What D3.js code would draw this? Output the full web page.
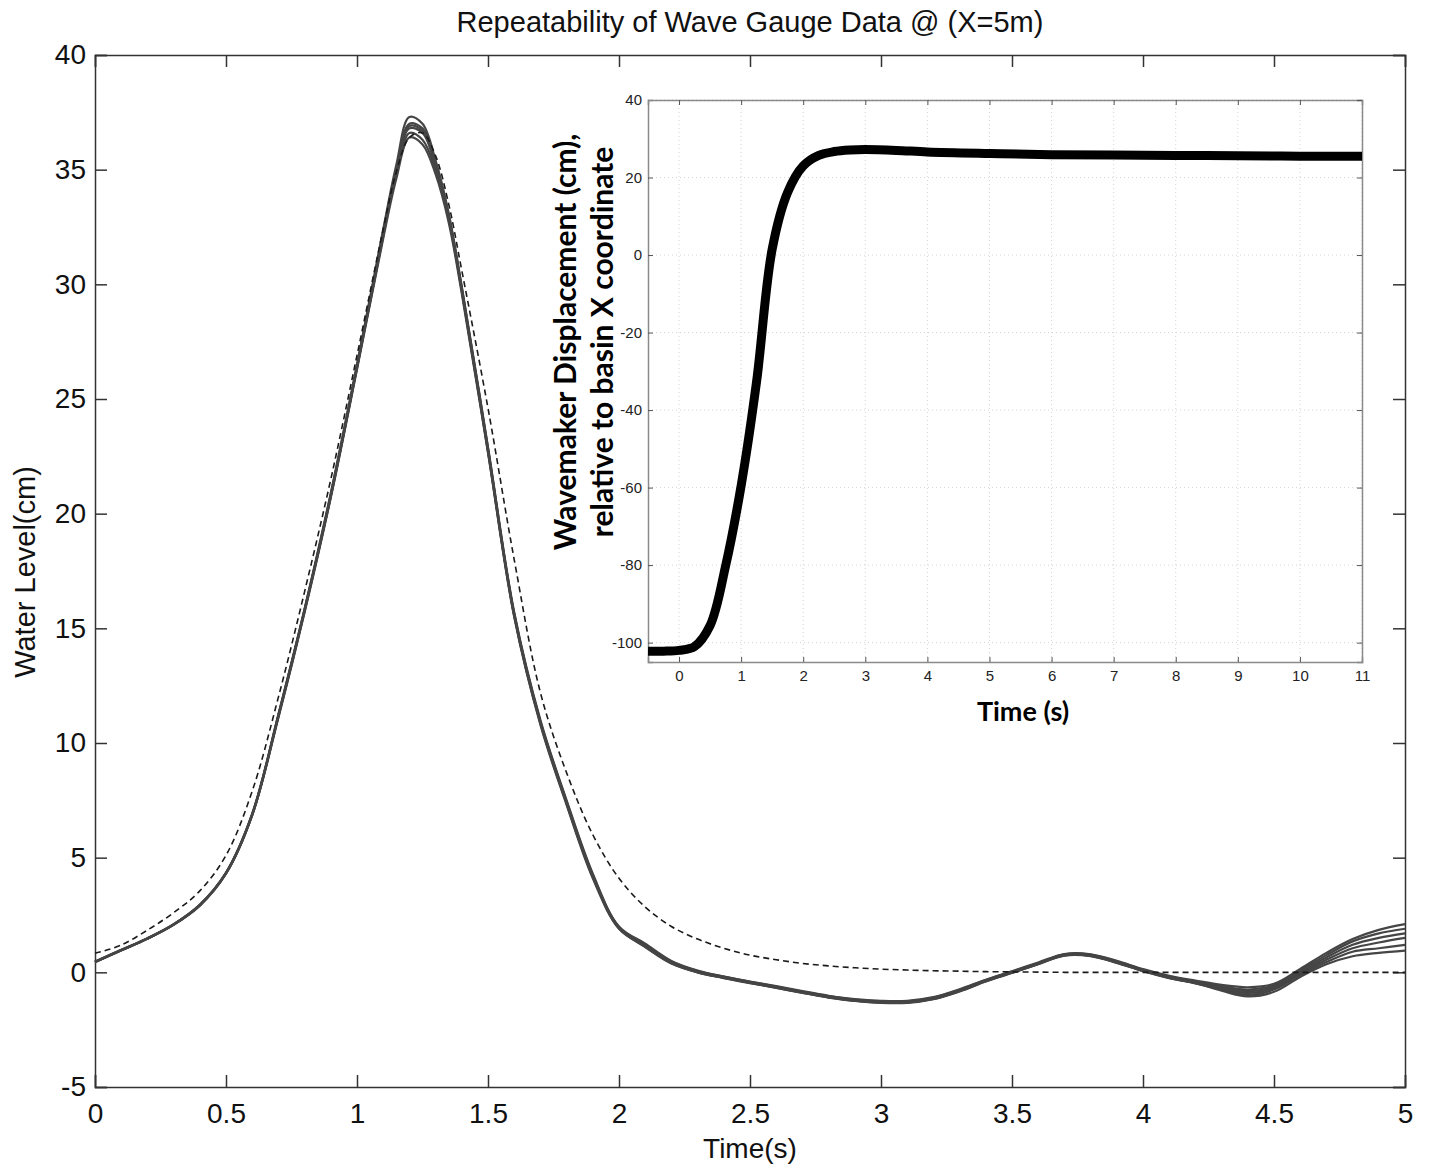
<!DOCTYPE html>
<html>
<head>
<meta charset="utf-8">
<script src="https://cdn.jsdelivr.net/npm/d3@7"></script>
<style>
  body { margin: 0; background: #fff; }
</style>
</head>
<body>
<div id="chart"></div>
<script>
//time samples (s) for the gauge records
var timeMain = [0,0.1,0.2,0.3,0.4,0.5,0.6,0.7,0.8,0.9,1.0,1.1,1.15,1.2,1.25,1.3,1.35,1.4,1.5,1.6,1.7,1.8,1.9,2.0,2.1,2.2,2.3,2.4,2.5,2.6,2.7,2.8,2.9,3.0,3.1,3.2,3.3,3.4,3.5,3.6,3.7,3.8,3.9,4.0,4.1,4.2,4.3,4.4,4.5,4.6,4.7,4.8,4.9,5.0];

//measured water level (cm), one array per repeated run
var run1 = [0.47,0.98,1.49,2.1,2.95,4.35,6.92,11.25,15.85,20.9,26.5,32.4,35.2,37.3,37.0,35.4,33.1,29.9,22.9,15.7,11.0,7.5,4.3,2.0,1.25,0.5,0.08,-0.18,-0.4,-0.6,-0.82,-1.02,-1.17,-1.24,-1.24,-1.08,-0.74,-0.32,0.05,0.43,0.8,0.79,0.5,0.14,-0.15,-0.36,-0.55,-0.65,-0.5,0.15,0.85,1.45,1.85,2.1];
var run2 = [0.46,0.97,1.48,2.09,2.94,4.34,6.9,11.22,15.82,20.85,26.45,32.3,35.0,37.0,36.8,35.3,33.0,29.85,22.85,15.65,10.95,7.45,4.25,1.97,1.22,0.47,0.06,-0.19,-0.41,-0.62,-0.84,-1.04,-1.19,-1.27,-1.27,-1.1,-0.76,-0.34,0.03,0.41,0.79,0.77,0.48,0.12,-0.18,-0.39,-0.6,-0.75,-0.55,0.08,0.75,1.35,1.7,1.9];
var run3 = [0.45,0.96,1.47,2.08,2.93,4.33,6.88,11.2,15.8,20.8,26.4,32.2,34.9,36.8,36.6,35.2,32.95,29.8,22.8,15.6,10.9,7.4,4.2,1.95,1.18,0.44,0.04,-0.21,-0.43,-0.64,-0.86,-1.06,-1.21,-1.29,-1.29,-1.13,-0.79,-0.36,0.01,0.39,0.77,0.75,0.45,0.09,-0.21,-0.43,-0.65,-0.82,-0.62,0.0,0.65,1.2,1.5,1.7];
var run4 = [0.45,0.96,1.47,2.08,2.92,4.31,6.86,11.15,15.75,20.75,26.35,32.1,34.8,36.6,36.3,35.0,32.85,29.7,22.7,15.55,10.85,7.35,4.15,1.92,1.15,0.42,0.02,-0.23,-0.45,-0.66,-0.88,-1.08,-1.23,-1.31,-1.31,-1.15,-0.81,-0.38,-0.01,0.37,0.75,0.73,0.43,0.07,-0.23,-0.46,-0.7,-0.9,-0.68,-0.05,0.55,1.05,1.3,1.5];
var run5 = [0.44,0.95,1.46,2.07,2.91,4.3,6.85,11.1,15.7,20.7,26.3,32.0,34.6,36.4,36.1,34.8,32.7,29.6,22.65,15.5,10.8,7.3,4.1,1.9,1.12,0.4,0.0,-0.25,-0.47,-0.68,-0.9,-1.1,-1.25,-1.33,-1.33,-1.17,-0.83,-0.4,-0.03,0.35,0.73,0.71,0.41,0.05,-0.25,-0.48,-0.75,-0.98,-0.75,-0.12,0.45,0.9,1.05,1.2];
var run6 = [0.45,0.96,1.47,2.08,2.92,4.32,6.87,11.18,15.78,20.78,26.38,32.15,34.85,36.9,36.7,35.1,32.9,29.75,22.75,15.58,10.88,7.38,4.18,1.93,1.1,0.38,0.0,-0.24,-0.46,-0.67,-0.89,-1.09,-1.24,-1.32,-1.32,-1.16,-0.82,-0.39,-0.02,0.36,0.74,0.72,0.42,0.06,-0.24,-0.47,-0.8,-1.05,-0.85,-0.2,0.35,0.7,0.85,0.95];

//theoretical water level (cm), dashed
var theory = [0.83,1.19,1.84,2.6,3.55,5.1,7.9,12.0,16.6,21.5,26.9,32.4,34.9,36.4,36.6,35.6,33.5,30.6,24.6,18.0,12.2,8.7,6.0,4.1,2.85,2.0,1.45,1.05,0.75,0.55,0.39,0.28,0.2,0.14,0.1,0.07,0.05,0.03,0.02,0.01,0,0,0,0,0,0,0,0,0,0,0,0,0,0];

//wavemaker paddle displacement (inset)
var timeInset = [-0.5,-0.25,0,0.25,0.5,0.75,1.0,1.25,1.5,1.75,2.0,2.25,2.5,2.75,3,3.5,4,5,6,7,8,9,10,11];
var paddle = [-102.2,-102.2,-102,-101,-95.6,-80.2,-59.5,-32.5,1.5,16.2,23,25.7,26.7,27.1,27.2,27.0,26.6,26.2,25.9,25.8,25.7,25.6,25.5,25.5];

//tick labels
var mainXTicks = [0,0.5,1,1.5,2,2.5,3,3.5,4,4.5,5];
var mainYTicks = [-5,0,5,10,15,20,25,30,35,40];
var insetXTicks = [0,1,2,3,4,5,6,7,8,9,10,11];
var insetYTicks = [-100,-80,-60,-40,-20,0,20,40];

var runs = [run1, run2, run3, run4, run5, run6];

//setting dimensions and margins
var W = 1429, H = 1167;
var margin = {top: 55, right: 24, bottom: 80, left: 95},
width = W - margin.left - margin.right,
height = H - margin.top - margin.bottom;

var svg = d3.select("#chart")
.append("svg")
.attr("width", W)
.attr("height", H)
.style("font-family", "'Liberation Sans', Arial, sans-serif");

var g = svg.append("g")
.attr("transform", "translate(" + margin.left + "," + margin.top + ")");

//scales for the main plot
var xScale = d3.scaleLinear().domain([0, 5]).range([0, width]);
var yScale = d3.scaleLinear().domain([-5, 40]).range([height, 0]);

var fmt = function(d) { return String(d); };

//main axes, ticks pointing inwards on all four sides
var axisB = g.append("g")
  .attr("transform", "translate(0," + height + ")")
  .call(d3.axisBottom(xScale).tickValues(mainXTicks).tickSize(-12).tickPadding(16).tickFormat(fmt));
var axisL = g.append("g")
  .call(d3.axisLeft(yScale).tickValues(mainYTicks).tickSize(-12).tickPadding(9).tickFormat(fmt));
var axisT = g.append("g")
  .call(d3.axisTop(xScale).tickValues(mainXTicks).tickSize(-12).tickFormat(""));
var axisR = g.append("g")
  .attr("transform", "translate(" + width + ",0)")
  .call(d3.axisRight(yScale).tickValues(mainYTicks).tickSize(-12).tickFormat(""));

[axisB, axisL, axisT, axisR].forEach(function(a) {
  a.selectAll("path, line").attr("stroke", "#333").attr("stroke-width", 1.5);
  a.selectAll("text").attr("fill", "#111").style("font-size", "28px").style("font-family", "'Liberation Sans', Arial, sans-serif");
});

//line generator for the gauge records
var line = d3.line()
  .x(function(d) { return xScale(d[0]); })
  .y(function(d) { return yScale(d[1]); })
  .curve(d3.curveCatmullRom.alpha(0.5));

//measured runs
runs.forEach(function(r) {
  g.append("path")
    .datum(timeMain.map(function(t, i) { return [t, r[i]]; }))
    .attr("fill", "none")
    .attr("stroke", "#454545")
    .attr("stroke-width", 2.2)
    .attr("d", line);
});

//theoretical dashed line
g.append("path")
  .datum(timeMain.map(function(t, i) { return [t, theory[i]]; }))
  .attr("fill", "none")
  .attr("stroke", "#1a1a1a")
  .attr("stroke-width", 1.6)
  .attr("stroke-dasharray", "6,4")
  .attr("d", line);

//main title and axis labels
svg.append("text")
  .attr("x", 750).attr("y", 32)
  .attr("text-anchor", "middle")
  .style("font-size", "29px")
  .attr("fill", "#111")
  .text("Repeatability of Wave Gauge Data @ (X=5m)");

svg.append("text")
  .attr("x", margin.left + width / 2).attr("y", 1158)
  .attr("text-anchor", "middle")
  .style("font-size", "28px")
  .attr("fill", "#111")
  .text("Time(s)");

svg.append("text")
  .attr("transform", "translate(35,572) rotate(-90)")
  .attr("text-anchor", "middle")
  .style("font-size", "29px")
  .attr("fill", "#111")
  .text("Water Level(cm)");

//inset plot
var inset = {left: 648, top: 100, right: 1362, bottom: 662};
var iw = inset.right - inset.left, ih = inset.bottom - inset.top;

var ig = svg.append("g")
  .attr("transform", "translate(" + inset.left + "," + inset.top + ")");

ig.append("rect")
  .attr("width", iw).attr("height", ih)
  .attr("fill", "#fff");

var ixScale = d3.scaleLinear().domain([-0.5, 11]).range([0, iw]);
var iyScale = d3.scaleLinear().domain([-105, 40]).range([ih, 0]);

//dotted grid
ig.append("g")
  .selectAll("line")
  .data(insetXTicks)
  .enter().append("line")
  .attr("x1", function(d) { return ixScale(d); })
  .attr("x2", function(d) { return ixScale(d); })
  .attr("y1", 0).attr("y2", ih)
  .attr("stroke", "#d4d4d4").attr("stroke-width", 1).attr("stroke-dasharray", "1,3");
ig.append("g")
  .selectAll("line")
  .data(insetYTicks)
  .enter().append("line")
  .attr("y1", function(d) { return iyScale(d); })
  .attr("y2", function(d) { return iyScale(d); })
  .attr("x1", 0).attr("x2", iw)
  .attr("stroke", "#d4d4d4").attr("stroke-width", 1).attr("stroke-dasharray", "1,3");

var iB = ig.append("g")
  .attr("transform", "translate(0," + ih + ")")
  .call(d3.axisBottom(ixScale).tickValues(insetXTicks).tickSize(-5).tickPadding(8).tickFormat(fmt));
var iL = ig.append("g")
  .call(d3.axisLeft(iyScale).tickValues(insetYTicks).tickSize(-5).tickPadding(6).tickFormat(fmt));
var iT = ig.append("g")
  .call(d3.axisTop(ixScale).tickValues(insetXTicks).tickSize(-5).tickFormat(""));
var iR = ig.append("g")
  .attr("transform", "translate(" + iw + ",0)")
  .call(d3.axisRight(iyScale).tickValues(insetYTicks).tickSize(-5).tickFormat(""));

[iB, iL, iT, iR].forEach(function(a) {
  a.selectAll("path").attr("stroke", "#8a8a8a").attr("stroke-width", 1.5);
  a.selectAll("line").attr("stroke", "#555").attr("stroke-width", 1);
  a.selectAll("text").attr("fill", "#222").style("font-size", "15px").style("font-family", "'Liberation Sans', Arial, sans-serif");
});

//paddle displacement line
var iline = d3.line()
  .x(function(d) { return ixScale(d[0]); })
  .y(function(d) { return iyScale(d[1]); })
  .curve(d3.curveCatmullRom.alpha(0.5));

ig.append("path")
  .datum(timeInset.map(function(t, i) { return [t, paddle[i]]; }))
  .attr("fill", "none")
  .attr("stroke", "#000")
  .attr("stroke-width", 9)
  .attr("d", iline);

//inset labels (bold)
svg.append("text")
  .attr("x", 1023).attr("y", 721)
  .attr("text-anchor", "middle")
  .style("font-family", "Lato, 'Open Sans', sans-serif")
  .style("font-weight", "bold")
  .style("font-size", "27px")
  .attr("fill", "#000")
  .text("Time (s)");

var ylab = svg.append("text")
  .attr("transform", "translate(576,342) rotate(-90)")
  .attr("text-anchor", "middle")
  .style("font-family", "Lato, 'Open Sans', sans-serif")
  .style("font-weight", "bold")
  .style("font-size", "30px")
  .attr("fill", "#000");
ylab.append("tspan").attr("x", 0).attr("dy", 0).text("Wavemaker Displacement (cm),");
ylab.append("tspan").attr("x", 0).attr("dy", 37).text("relative to basin X coordinate");
</script>
</body>
</html>
